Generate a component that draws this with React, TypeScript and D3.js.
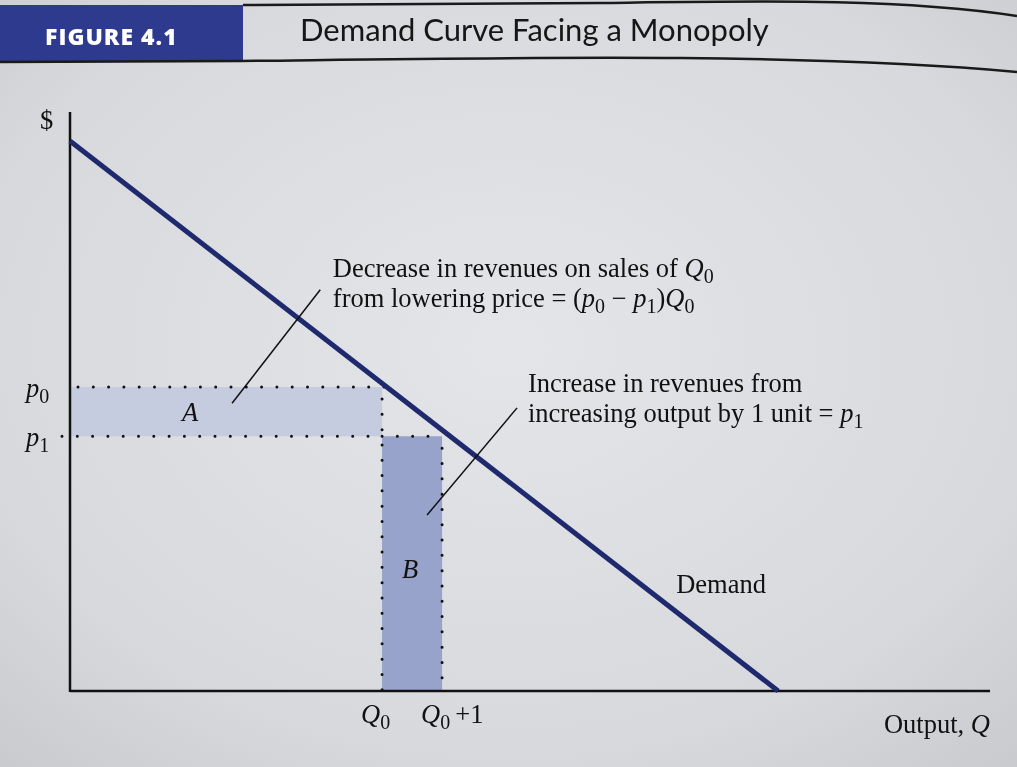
import * as d3 from "d3";

// demand curve (quantity, price)
const demandQ = [0, 11.8];
const demandP = [9.5, 0];
// the two prices / quantities marked on the chart
const q0 = 5.2;
const q1 = 6.2;
const p0 = 5.25;
const p1 = 4.4;

const W = 1017;
const H = 767;
const serif = "'Liberation Serif', 'Times New Roman', serif";

export default function App() {
  const x = d3.scaleLinear([0, 15.33], [70, 990]);
  const y = d3.scaleLinear([0, 10], [691, 112]);
  const line = d3.line<number>((d, i) => x(demandQ[i]), (d) => y(d));

  const navy = "#1f2a6e";
  const dot = { stroke: "#111", strokeWidth: 3, strokeLinecap: "round" as const, strokeDasharray: "0 15.3" };
  const sub = { fontStyle: "normal" as const, fontSize: 20 };

  return (
    <div style={{ position: "fixed", left: 0, top: 0 }}>
      <svg width={W} height={H} style={{ display: "block" }}>
        <defs>
          <radialGradient id="bg" cx="0.5" cy="0.45" r="0.75">
            <stop offset="0" stopColor="#e4e5e8" />
            <stop offset="0.7" stopColor="#d8d9dc" />
            <stop offset="1" stopColor="#c9cacd" />
          </radialGradient>
        </defs>
        <rect width={W} height={H} fill="url(#bg)" />

        {/* Header */}
        <rect x={0} y={5} width={243} height={57} fill="#2e3a8d" />
        <text x={45} y={45} fill="#fff" fontFamily="'Open Sans', sans-serif" fontWeight={800} fontSize={23} letterSpacing={1}>
          FIGURE 4.1
        </text>
        <text x={300} y={41} fill="#161616" fontFamily="Lato, sans-serif" fontSize={31}>
          Demand Curve Facing a Monopoly
        </text>
        <path d="M243,5 L600,3 C760,1 900,-2 1017,16" fill="none" stroke="#1a1a1a" strokeWidth={2.5} />
        <path d="M0,62 L240,61 C500,58 800,52 1017,72" fill="none" stroke="#1a1a1a" strokeWidth={2.5} />

        {/* Area A */}
        <rect x={x(0)} y={y(p0)} width={x(q0) - x(0)} height={y(p1) - y(p0)} fill="#c6cce0" />
        {/* Area B */}
        <rect x={x(q0)} y={y(p1)} width={x(q1) - x(q0)} height={y(0) - y(p1)} fill="#97a3ca" />

        {/* dotted guides */}
        <line x1={x(0) + 8} y1={y(p0)} x2={x(q0) + 8} y2={y(p0)} {...dot} />
        <line x1={x(0) - 8} y1={y(p1)} x2={x(q0)} y2={y(p1)} {...dot} />
        <line x1={x(q0)} y1={y(p1)} x2={x(q1)} y2={y(p1)} {...dot} />
        <line x1={x(q0)} y1={y(p0) + 12} x2={x(q0)} y2={y(0)} {...dot} />
        <line x1={x(q1)} y1={y(p1) + 12} x2={x(q1)} y2={y(0)} {...dot} />

        {/* axes */}
        <line x1={x(0)} y1={y(10)} x2={x(0)} y2={y(0) + 1} stroke="#111" strokeWidth={2.5} />
        <line x1={x(0)} y1={y(0)} x2={x(15.33)} y2={y(0)} stroke="#111" strokeWidth={2.5} />

        {/* demand */}
        <path d={line(demandP) ?? ""} fill="none" stroke={navy} strokeWidth={5} />

        {/* leaders */}
        <line x1={x(4.17)} y1={y(6.93)} x2={x(2.7)} y2={y(4.97)} stroke="#111" strokeWidth={1.5} />
        <line x1={x(7.45)} y1={y(4.89)} x2={x(5.95)} y2={y(3.04)} stroke="#111" strokeWidth={1.5} />

        <g fontFamily={serif} fill="#111" fontSize={26.5}>
          <text x={x(0) - 30} y={y(9.7)}>$</text>
          <text x={x(0) - 44} y={y(p0) + 10} fontStyle="italic">p<tspan {...sub} dy={6}>0</tspan></text>
          <text x={x(0) - 44} y={y(p1) + 10} fontStyle="italic">p<tspan {...sub} dy={6}>1</tspan></text>
          <text x={x(2)} y={y((p0 + p1) / 2) + 9} fontStyle="italic" textAnchor="middle">A</text>
          <text x={x((q0 + q1) / 2) - 2} y={y(1.95)} fontStyle="italic" textAnchor="middle">B</text>
          <text x={x(q0) - 21} y={y(0) + 32} fontStyle="italic">Q<tspan {...sub} dy={6}>0</tspan></text>
          <text x={x(q1) - 21} y={y(0) + 32} fontStyle="italic">Q<tspan {...sub} dy={6}>0</tspan><tspan fontStyle="normal" dy={-6} dx={5}>+1</tspan></text>
          <text x={x(10.1)} y={y(1.7)}>Demand</text>
          <text x={x(15.33)} y={y(0) + 42} textAnchor="end">Output, <tspan fontStyle="italic">Q</tspan></text>

          <text x={x(4.38)} y={y(7.15)}>
            Decrease in revenues on sales of <tspan fontStyle="italic">Q</tspan><tspan fontSize={20} dy={6}>0</tspan>
          </text>
          <text x={x(4.38)} y={y(6.63)}>
            from lowering price = (<tspan fontStyle="italic">p</tspan><tspan fontSize={20} dy={6}>0</tspan><tspan dy={-6}> − </tspan><tspan fontStyle="italic">p</tspan><tspan fontSize={20} dy={6}>1</tspan><tspan dy={-6}>)</tspan><tspan fontStyle="italic">Q</tspan><tspan fontSize={20} dy={6}>0</tspan>
          </text>
          <text x={x(7.63)} y={y(5.16)}>Increase in revenues from</text>
          <text x={x(7.63)} y={y(4.65)}>
            increasing output by 1 unit = <tspan fontStyle="italic">p</tspan><tspan fontSize={20} dy={6}>1</tspan>
          </text>
        </g>
      </svg>
    </div>
  );
}
